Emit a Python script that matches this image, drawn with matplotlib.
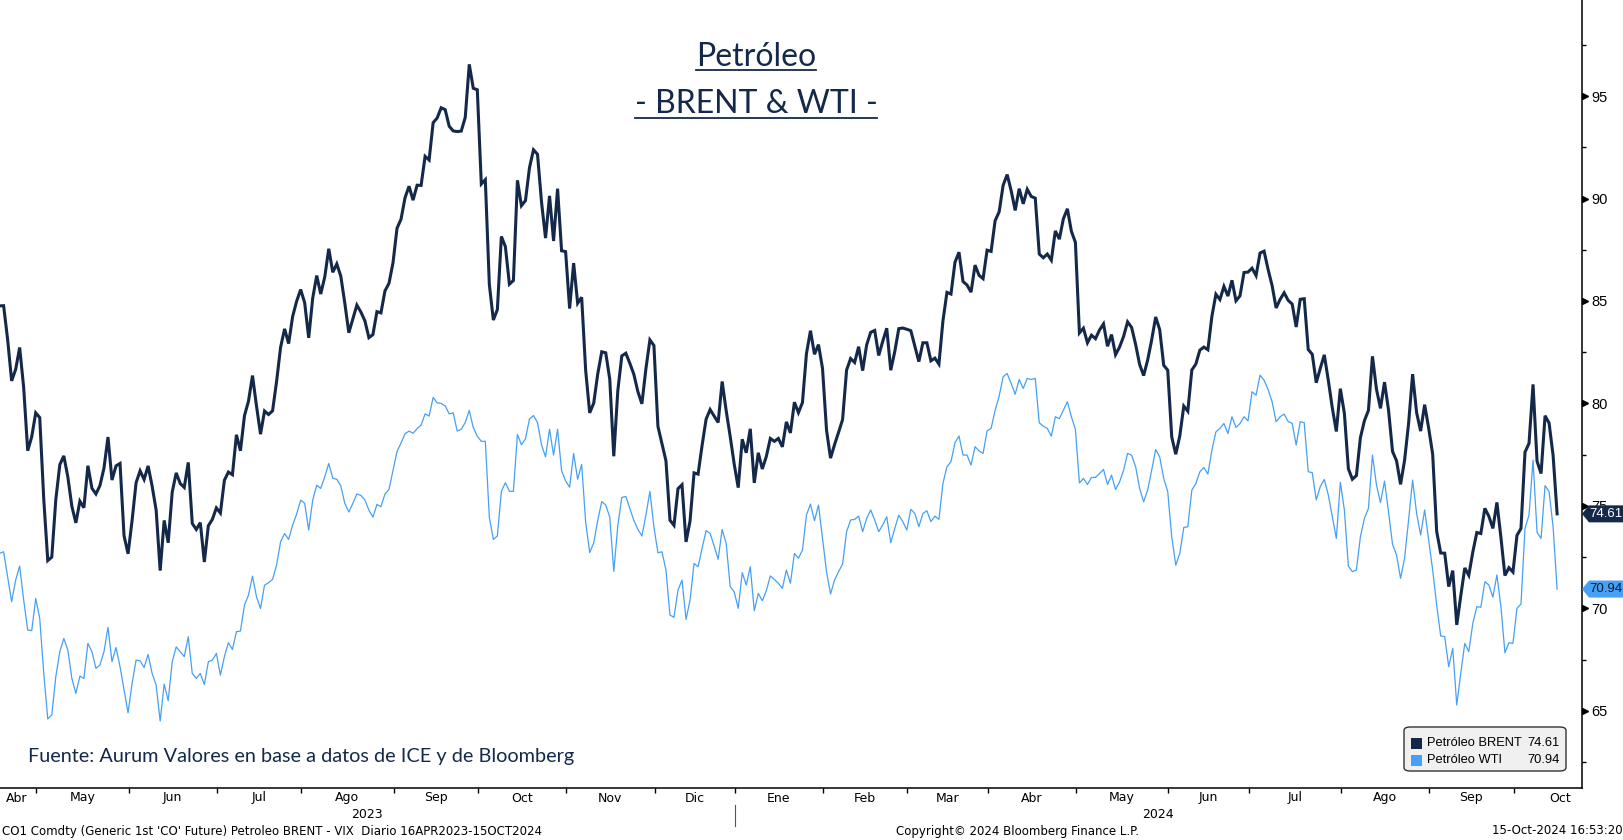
import numpy as np
import pandas as pd
import matplotlib
matplotlib.use('Agg')
import matplotlib.pyplot as plt
from matplotlib import font_manager as fm
from matplotlib.patches import Polygon, FancyBboxPatch, Rectangle
from matplotlib.lines import Line2D

# --- data -------------------------------------------------------------
# trading days shown on the chart (days with no data at all are left out)
skip_days = ['2023-12-25', '2024-01-01', '2024-03-29']
dates = pd.bdate_range('2023-04-17', '2024-10-15').drop(pd.to_datetime(skip_days))

brent = [
    84.76, 84.77, 83.12, 81.10, 81.66, 82.73, 80.77, 77.69, 78.37, 79.54,
    79.31, 75.32, 72.33, 72.50, 75.30, 77.01, 77.44, 76.41, 74.98, 74.17,
    75.23, 74.91, 76.96, 75.86, 75.58, 75.99, 76.84, 78.36, 76.26, 76.95,
    77.07, 73.54, 72.66, 74.28, 76.13, 76.71, 76.29, 76.95, 75.96, 74.79,
    71.84, 74.29, 73.20, 75.67, 76.61, 76.09, 75.90, 77.12, 74.14, 73.85,
    74.18, 72.26, 74.03, 74.34, 74.90, 74.65, 76.25, 76.65, 76.52, 78.47,
    77.69, 79.40, 80.11, 81.36, 79.87, 78.50, 79.63, 79.46, 79.64, 81.07,
    82.74, 83.64, 82.92, 84.24, 84.99, 85.56, 84.91, 83.20, 85.14, 86.24,
    85.34, 86.17, 87.55, 86.40, 86.81, 86.21, 84.89, 83.45, 84.12, 84.80,
    84.46, 84.03, 83.21, 83.36, 84.48, 84.42, 85.49, 85.86, 86.86, 88.55,
    88.99, 90.04, 90.60, 89.92, 90.65, 90.64, 92.06, 91.88, 93.70, 93.93,
    94.43, 94.34, 93.53, 93.30, 93.27, 93.29, 93.96, 96.55, 95.38, 95.31,
    90.71, 90.92, 85.81, 84.07, 84.58, 88.15, 87.65, 85.82, 86.00, 90.89,
    89.65, 89.90, 91.50, 92.38, 92.16, 89.83, 88.07, 90.13, 87.93, 90.48,
    87.45, 87.41, 84.63, 86.85, 84.89, 85.18, 81.61, 79.54, 80.01, 81.43,
    82.52, 82.47, 81.18, 77.42, 80.61, 82.32, 82.45, 81.96, 81.42, 80.58,
    79.98, 81.68, 83.10, 82.83, 78.88, 78.03, 77.20, 74.30, 74.05, 75.84,
    76.03, 73.24, 74.26, 76.61, 76.55, 77.95, 79.23, 79.70, 79.39, 79.07,
    81.07, 79.65, 78.39, 77.04, 75.89, 78.25, 77.59, 78.76,
    76.12, 77.59, 76.80, 77.41, 78.29, 78.15, 78.29, 77.88, 79.10, 78.56,
    80.06, 79.55, 80.04, 82.43, 83.55, 82.40, 82.87, 81.71, 78.70, 77.33,
    77.99, 78.59, 79.21, 81.63, 82.19, 82.00, 82.77, 81.60, 82.86, 83.47,
    83.56, 82.34, 83.03, 83.67, 81.62, 82.53, 83.65, 83.68, 83.62, 83.55,
    82.80, 82.04, 82.96, 82.96, 82.08, 82.21, 81.92, 84.03, 85.42, 85.34,
    86.89, 87.38, 85.95, 85.78, 85.43, 86.75, 86.25, 86.09, 87.48,
    87.42, 88.92, 89.35, 90.65, 91.17, 90.38, 89.42, 90.48, 89.74, 90.45,
    90.10, 90.02, 87.29, 87.11, 87.29, 86.99, 88.42, 88.02, 89.01, 89.50,
    88.40, 87.86, 83.44, 83.67, 82.96, 83.33, 83.16, 83.58, 83.88, 82.79,
    83.36, 82.38, 82.75, 83.27, 83.98, 83.71, 82.88, 81.90, 81.36, 82.12,
    83.10, 84.22, 83.60, 81.86, 81.62, 78.36, 77.52, 78.41, 79.87, 79.62,
    81.63, 81.92, 82.60, 82.75, 82.62, 84.25, 85.33, 85.07, 85.71, 85.24,
    86.01, 85.01, 85.25, 86.39, 86.41, 86.60, 86.24, 87.34, 87.43, 86.54,
    85.75, 84.66, 85.08, 85.40, 85.03, 84.85, 83.73, 85.08, 85.11, 82.63,
    82.40, 81.01, 81.71, 82.37, 81.13, 79.78, 78.63, 80.72, 79.52, 76.81,
    76.30, 76.48, 78.33, 79.16, 79.66, 82.30, 80.69, 79.76, 81.04, 79.68,
    77.66, 77.20, 76.05, 77.22, 79.02, 81.43, 79.55, 78.65, 79.94, 78.80,
    77.52, 73.75, 72.70, 72.69, 71.06, 71.84, 69.19, 70.61, 71.97, 71.61,
    72.75, 73.70, 73.65, 74.88, 74.49, 73.90, 75.17, 73.46, 71.60, 71.98,
    71.77, 73.56, 73.90, 77.62, 78.05, 80.93, 77.18, 76.58, 79.40, 79.04,
    77.46, 74.61,
]

wti = [
    72.68, 72.76, 71.54, 70.32, 71.38, 72.06, 70.40, 68.94, 68.91, 70.48,
    69.51, 66.82, 64.60, 64.80, 66.66, 67.88, 68.53, 67.96, 66.58, 65.85,
    66.69, 66.58, 68.29, 67.88, 67.07, 67.23, 67.88, 69.07, 67.39, 68.09,
    67.15, 66.01, 64.90, 66.33, 67.47, 67.44, 67.11, 67.75, 66.82, 66.25,
    64.50, 66.30, 65.49, 67.39, 68.12, 67.88, 67.64, 68.61, 66.82, 66.58,
    66.82, 66.28, 67.39, 67.47, 67.80, 66.74, 67.64, 68.32, 67.99, 68.86,
    68.89, 70.16, 70.64, 71.57, 70.56, 69.99, 71.13, 71.25, 71.41, 72.11,
    73.25, 73.65, 73.36, 74.06, 74.60, 75.28, 75.12, 73.82, 75.28, 76.01,
    75.85, 76.42, 77.07,
    76.35, 76.30, 75.97, 75.12, 74.70, 75.12, 75.58, 75.51, 75.29, 74.79,
    74.45, 75.07, 74.96, 75.58, 75.80, 76.72, 77.65, 78.07, 78.52, 78.65,
    78.54, 78.77, 78.94, 79.49, 79.38, 80.29, 80.03, 80.00, 79.88, 79.49,
    79.54, 78.65, 78.74, 79.07, 79.66, 78.82, 78.40, 78.15, 78.15, 74.45,
    73.36, 73.53, 75.71, 76.13, 75.71, 75.71, 78.49, 77.98, 78.27, 79.24,
    79.41, 79.07, 77.98, 77.39, 78.74, 77.48, 78.74, 76.72, 76.22, 75.91,
    77.56, 76.30, 77.02, 74.20, 72.72, 73.19, 74.29, 75.21, 75.04, 74.45,
    71.80, 74.03, 75.41, 75.46, 74.87, 74.29, 73.86, 73.53, 74.54, 75.71,
    73.98, 72.71, 72.76, 71.87, 69.67, 69.56, 70.89, 71.38, 69.46, 70.40,
    72.19, 72.03, 72.93, 73.79, 73.66, 73.04, 72.39, 73.85, 73.17, 71.06,
    70.81, 70.00, 71.74, 71.14, 72.03, 69.88, 70.73, 70.37, 70.86, 71.58,
    71.41, 71.22, 70.97, 71.87, 71.22, 72.68, 72.44, 72.84, 74.55, 75.09,
    74.28, 75.04, 73.41, 71.79, 70.70, 71.38, 71.79, 72.16, 73.74, 74.31,
    74.34, 74.50, 73.74, 74.39, 74.80, 74.31, 73.74, 74.07, 74.47, 73.20,
    73.90, 74.55, 74.23, 73.82, 74.83, 74.63, 73.98, 74.63, 74.76, 74.23,
    74.50, 74.34, 76.10, 76.91, 77.16, 78.08, 78.41, 77.48, 77.48, 76.99,
    77.89, 77.68,
    77.56, 78.66, 78.78, 79.67, 80.35, 81.30, 81.46, 80.97, 80.45, 81.17,
    80.73, 81.22, 81.17, 81.22, 79.05, 78.89, 78.78, 78.40, 79.35, 79.26,
    79.67, 80.08, 79.35, 78.73, 76.12, 76.34, 76.04, 76.39, 76.39, 76.58,
    76.78, 76.04, 76.50, 75.80, 76.17, 76.74, 77.56, 77.47, 76.91, 75.85,
    75.20, 75.77, 76.74, 77.75, 77.39, 76.34, 75.69, 73.49, 72.11, 72.68,
    73.95, 73.98, 75.77, 76.09, 76.66, 76.87, 76.55, 77.72, 78.61, 78.78,
    79.02, 78.53, 79.35, 78.83, 79.02, 79.35, 79.15, 80.57, 80.40, 81.38,
    81.13, 80.68, 80.08, 79.10, 79.35, 79.48,
    79.11, 79.03, 77.97, 79.11, 79.06, 76.67, 76.62, 75.29, 75.94, 76.29,
    75.53, 74.47, 73.41, 76.15, 74.80, 72.06, 71.79, 71.87, 73.50, 74.39,
    74.88, 77.48, 76.02, 75.16, 76.21, 74.72, 73.12, 72.60, 71.46, 72.44,
    74.31, 76.26, 74.63, 73.58, 74.80, 73.33, 71.87, 70.16, 68.65, 68.62,
    67.15, 68.05, 65.28, 66.83, 68.29, 67.88, 69.27, 70.08, 70.05, 71.30,
    71.14, 70.54, 71.63, 70.08, 67.83, 68.32, 68.29, 70.00, 70.21, 73.90,
    74.55, 77.24, 73.71, 73.41, 75.99, 75.69, 73.98, 70.94,
]

month_names = ['Ene', 'Feb', 'Mar', 'Abr', 'May', 'Jun',
               'Jul', 'Ago', 'Sep', 'Oct', 'Nov', 'Dic']
yticks_major = [65, 70, 75, 80, 85, 90, 95]
yticks_minor = [62.5, 67.5, 72.5, 77.5, 82.5, 87.5, 92.5, 97.5]

assert len(brent) == len(dates) and len(wti) == len(dates)

# --- style ------------------------------------------------------------
W, H = 1624, 840
navy = '#14294a'
blue = '#46a0f5'


def has_font(name):
    try:
        fm.findfont(fm.FontProperties(family=name), fallback_to_default=False)
        return True
    except ValueError:
        return False


narrow = 'Liberation Sans Narrow' if has_font('Liberation Sans Narrow') else 'DejaVu Sans'
narrow_size = 11 if narrow == 'Liberation Sans Narrow' else 9
plain = 'Liberation Sans'
title_font = 'Lato' if has_font('Lato') else 'DejaVu Sans'

fig = plt.figure(figsize=(W / 100, H / 100), dpi=100)
ax = fig.add_axes([0, 1 - 788 / H, 1582 / W, 788 / H])

x = np.arange(len(dates))
ax.plot(x, wti, color=blue, lw=0.9, zorder=2)
ax.plot(x, brent, color=navy, lw=2.2, zorder=3, solid_joinstyle='miter')

ax.set_xlim(0.1, 394.2)
ax.set_ylim(61.23, 99.69)

for s in ['top', 'left']:
    ax.spines[s].set_visible(False)
ax.spines['right'].set_linewidth(1.1)
ax.spines['bottom'].set_linewidth(1.1)

# right axis
ax.yaxis.tick_right()
ax.set_yticks(yticks_major)
ax.set_yticks(yticks_minor, minor=True)
ax.tick_params(axis='y', which='major', length=0, pad=7, labelsize=10.5)
ax.tick_params(axis='y', which='minor', direction='out', length=3, width=1)
for lab in ax.get_yticklabels():
    lab.set_fontfamily(plain)
ax.plot(np.full(len(yticks_major), 1 + 3.5 / 1582), yticks_major, ls='none',
        marker='>', ms=5, color='black', transform=ax.get_yaxis_transform(),
        clip_on=False, zorder=4)


# months on a trading-day axis
def day_pos(d):
    return np.busday_count(np.datetime64('2023-04-17'), np.datetime64(d, 'D'),
                           holidays=skip_days)


def px(v):
    # data x -> figure pixel
    return -0.4 + 4.014 * v


months = pd.date_range('2023-04-01', '2024-11-01', freq='MS')
ticks = [day_pos(m.date()) - 0.85 for m in months]
ax.set_xticks(ticks[1:-1])
ax.tick_params(axis='x', which='major', direction='out', length=3.5, width=1,
               labelbottom=False)
lo, hi = ax.get_xlim()
for i, m in enumerate(months[:-1]):
    c = (ticks[i] + ticks[i + 1]) / 2
    c = min(max(c, lo + 4.2), hi - 4.2)
    fig.text(px(c) / W, 1 - 798 / H, month_names[m.month - 1],
             ha='center', va='center', fontsize=narrow_size, family=narrow)

jan_px = px(day_pos('2024-01-01') - 0.85)
fig.add_artist(Line2D([jan_px / W] * 2, [1 - 805 / H, 1 - 826 / H],
                      color='#555555', lw=0.8))
fig.text(jan_px / 2 / W, 1 - 815 / H, '2023', ha='center', va='center',
         fontsize=narrow_size, family=narrow)
fig.text((jan_px + 1582) / 2 / W, 1 - 815 / H, '2024', ha='center', va='center',
         fontsize=narrow_size, family=narrow)

# footer
fig.text(2 / W, 1 - 831 / H,
         "CO1 Comdty (Generic 1st 'CO' Future) Petroleo BRENT - VIX  Diario 16APR2023-15OCT2024",
         ha='left', va='center', fontsize=narrow_size - 0.5, family=narrow)
fig.text(1018 / W, 1 - 831 / H, 'Copyright\u00a9 2024 Bloomberg Finance L.P.',
         ha='center', va='center', fontsize=narrow_size - 0.5, family=narrow)
fig.text(1623 / W, 1 - 831 / H, '15-Oct-2024 16:53:20', ha='right', va='center',
         fontsize=narrow_size - 0.5, family=narrow)

# title and source
t1 = fig.text(756 / W, 1 - 66 / H, 'Petróleo', ha='center', va='baseline',
              fontsize=23, family=title_font, color=navy)
t2 = fig.text(756 / W, 1 - 113 / H, '- BRENT & WTI -', ha='center', va='baseline',
              fontsize=23, family=title_font, color=navy)
fig.text(28 / W, 1 - 762 / H, 'Fuente: Aurum Valores en base a datos de ICE y de Bloomberg',
         ha='left', va='baseline', fontsize=14.3, family=title_font, color=navy)

fig.canvas.draw()
rend = fig.canvas.get_renderer()
for t, ypx in [(t1, 70), (t2, 118)]:
    bb = t.get_window_extent(rend)
    fig.add_artist(Line2D([bb.x0 / W, bb.x1 / W], [1 - ypx / H] * 2,
                          color=navy, lw=1.3))


# last-value tags on the right axis
def value_tag(val, fc, tc):
    ypx = ax.transData.transform((0, val))[1]
    h = 8.5
    pts = [(1582, ypx), (1589, ypx + h), (W, ypx + h), (W, ypx - h), (1589, ypx - h)]
    fig.add_artist(Polygon([(a / W, b / H) for a, b in pts], closed=True,
                           fc=fc, ec='none', transform=fig.transFigure, zorder=6))
    fig.text(1606 / W, ypx / H, f'{val:.2f}', ha='center', va='center',
             fontsize=9.5, family=plain, color=tc, zorder=7)


value_tag(brent[-1], navy, 'white')
value_tag(wti[-1], blue, '#0a1a30')

# legend box
fig.add_artist(FancyBboxPatch((1404 / W, 1 - 771 / H), 162 / W, 44 / H,
                              boxstyle='round,pad=0,rounding_size=0.004',
                              fc='#f0f0f0', ec='#333333', lw=1,
                              transform=fig.transFigure, zorder=6))
for k, (name, val, col) in enumerate([('Petróleo BRENT', brent[-1], navy),
                                      ('Petróleo WTI', wti[-1], blue)]):
    yc = 743 + 17 * k
    fig.add_artist(Rectangle((1411 / W, 1 - (yc + 5.5) / H), 11 / W, 11 / H,
                             fc=col, ec='none', transform=fig.transFigure, zorder=7))
    fig.text(1427 / W, 1 - yc / H, name, ha='left', va='center', fontsize=9.3,
             family=plain, color='black', zorder=7)
    fig.text(1560 / W, 1 - yc / H, f'{val:.2f}', ha='right', va='center',
             fontsize=9.3, family=plain, color='black', zorder=7)

fig.savefig('out.png', dpi=100)
